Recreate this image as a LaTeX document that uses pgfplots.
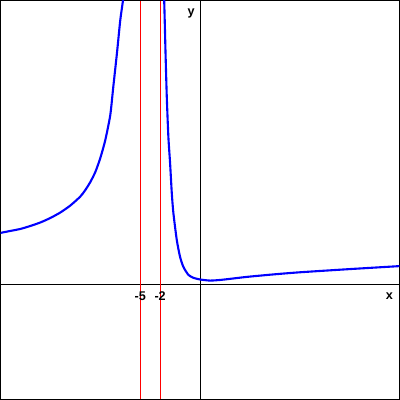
\documentclass[border=0pt]{standalone}
\usepackage{pgfplots}
\pgfplotsset{compat=1.18}
\usepackage{fontspec}
\setmainfont{Liberation Sans}
\begin{document}
\begin{tikzpicture}
\begin{axis}[
  scale only axis, width=10cm, height=10cm,
  xmin=-200, xmax=200, ymin=-115, ymax=285,
  xtick=\empty, ytick=\empty,
  axis line style={black, line width=0.8pt},
  clip=true,
]
% axes
\addplot[black, line width=0.7pt] coordinates {(-200,0) (200,0)};
\addplot[black, line width=0.7pt] coordinates {(0,-115) (0,285)};
% asymptotes
\addplot[red, line width=0.7pt] coordinates {(-60,-115) (-60,285)};
\addplot[red, line width=0.7pt] coordinates {(-40,-115) (-40,285)};
% left branch
\addplot[blue, line width=1.5pt, smooth, tension=0.4] coordinates {
 (-200,52) (-190,54) (-180,56) (-170,59) (-160,62.5) (-150,67) (-140,72.5)
 (-130,79.5) (-120,88.5) (-115,95) (-110,103) (-105,113) (-100,127) (-95,145)
 (-90,170) (-87,198) (-83,235) (-80,265) (-77,287) (-76,300)};
% right branch
\addplot[blue, line width=1.5pt, smooth, tension=0.4] coordinates {
 (-36.3,300) (-35.5,270) (-34.5,230) (-33.3,188) (-31.7,148) (-30,122) (-28.3,92)
 (-26.7,72) (-23.3,45) (-20,28) (-16.7,18) (-11.7,10) (-6.7,7) (0,5.3)
 (10,4.2) (20,4.8) (30,5.9) (40,7.1) (50,8.2) (75,10.5) (100,12.5) (150,15.7) (200,18.7)};
% labels
\node[font=\fontsize{9}{10}\selectfont\bfseries] at (axis cs:-60,-11) {-5};
\node[font=\fontsize{9}{10}\selectfont\bfseries] at (axis cs:-40,-11) {-2};
\node[font=\fontsize{9}{10}\selectfont\bfseries] at (axis cs:190,-11) {x};
\node[font=\fontsize{9}{10}\selectfont\bfseries] at (axis cs:-9,272) {y};
\end{axis}
\end{tikzpicture}
\end{document}
